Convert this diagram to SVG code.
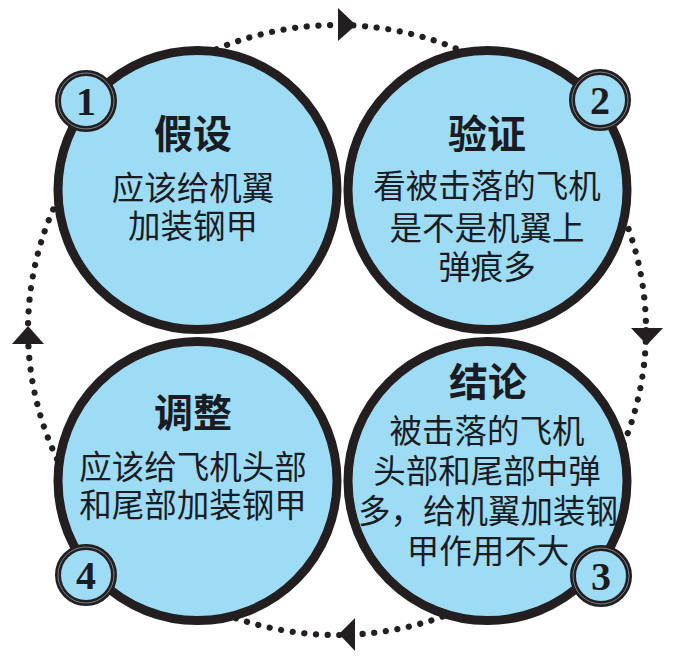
<svg xmlns="http://www.w3.org/2000/svg" width="676" height="658" viewBox="0 0 676 658">
<defs>
<style>
.big{fill:#9edcf5;stroke:#231f20;stroke-width:9}
.badge{fill:#9edcf5;stroke:#231f20;stroke-width:6}
.ring{fill:none;stroke:#8a98a4;stroke-width:0.8}
.num{font-family:"Liberation Serif",serif;font-weight:bold;font-size:40px;fill:#1a1c24;text-anchor:middle}
.title{font-family:"Noto Sans CJK SC",sans-serif;font-weight:bold;font-size:39px;fill:#1a1c24;text-anchor:middle}
.body{font-family:"Noto Sans CJK SC",sans-serif;font-size:32.5px;fill:#1a1c24;text-anchor:middle}
.dots{fill:none;stroke:#231f20;stroke-width:6.2;stroke-linecap:round;stroke-dasharray:0.1 11.6}
.arrow{fill:#231f20}
</style>
</defs>
<rect width="676" height="658" fill="#ffffff"/>
<g id="connectors">
<ellipse class="dots" cx="337" cy="330" rx="309" ry="305"/>
<polygon class="arrow" points="338,8 338,41 356,25"/>
<polygon class="arrow" points="631,328 663,328 647,345"/>
<polygon class="arrow" points="355,618 355,651 339,634"/>
<polygon class="arrow" points="12,344 44,344 28,326"/>
</g>
<g id="node1">
<circle class="big" cx="197.5" cy="190" r="139.5"/>
<text class="title" x="193" y="148">假设</text>
<text class="body" x="193" y="200">应该给机翼</text>
<text class="body" x="193" y="238">加装钢甲</text>
<circle class="badge" cx="86" cy="101" r="28"/>
<circle class="ring" cx="86" cy="101" r="28"/>
<text class="num" x="86" y="115">1</text>
</g>
<g id="node2">
<circle class="big" cx="487.5" cy="190" r="139.5"/>
<text class="title" x="487" y="148">验证</text>
<text class="body" x="487" y="198">看被击落的飞机</text>
<text class="body" x="487" y="240">是不是机翼上</text>
<text class="body" x="487" y="279">弹痕多</text>
<circle class="badge" cx="600" cy="100" r="28"/>
<circle class="ring" cx="600" cy="100" r="28"/>
<text class="num" x="600" y="114">2</text>
</g>
<g id="node3">
<circle class="big" cx="487.5" cy="481" r="139.5"/>
<text class="title" x="488" y="396">结论</text>
<text class="body" x="487" y="443">被击落的飞机</text>
<text class="body" x="487" y="483">头部和尾部中弹</text>
<text class="body" x="488" y="523">多，给机翼加装钢</text>
<text class="body" x="488" y="563">甲作用不大</text>
<circle class="badge" cx="601" cy="576" r="28"/>
<circle class="ring" cx="601" cy="576" r="28"/>
<text class="num" x="601" y="590">3</text>
</g>
<g id="node4">
<circle class="big" cx="197.5" cy="481" r="139.5"/>
<text class="title" x="193" y="427">调整</text>
<text class="body" x="193" y="479">应该给飞机头部</text>
<text class="body" x="193" y="517">和尾部加装钢甲</text>
<circle class="badge" cx="86" cy="575" r="28"/>
<circle class="ring" cx="86" cy="575" r="28"/>
<text class="num" x="86" y="589">4</text>
</g>
</svg>
